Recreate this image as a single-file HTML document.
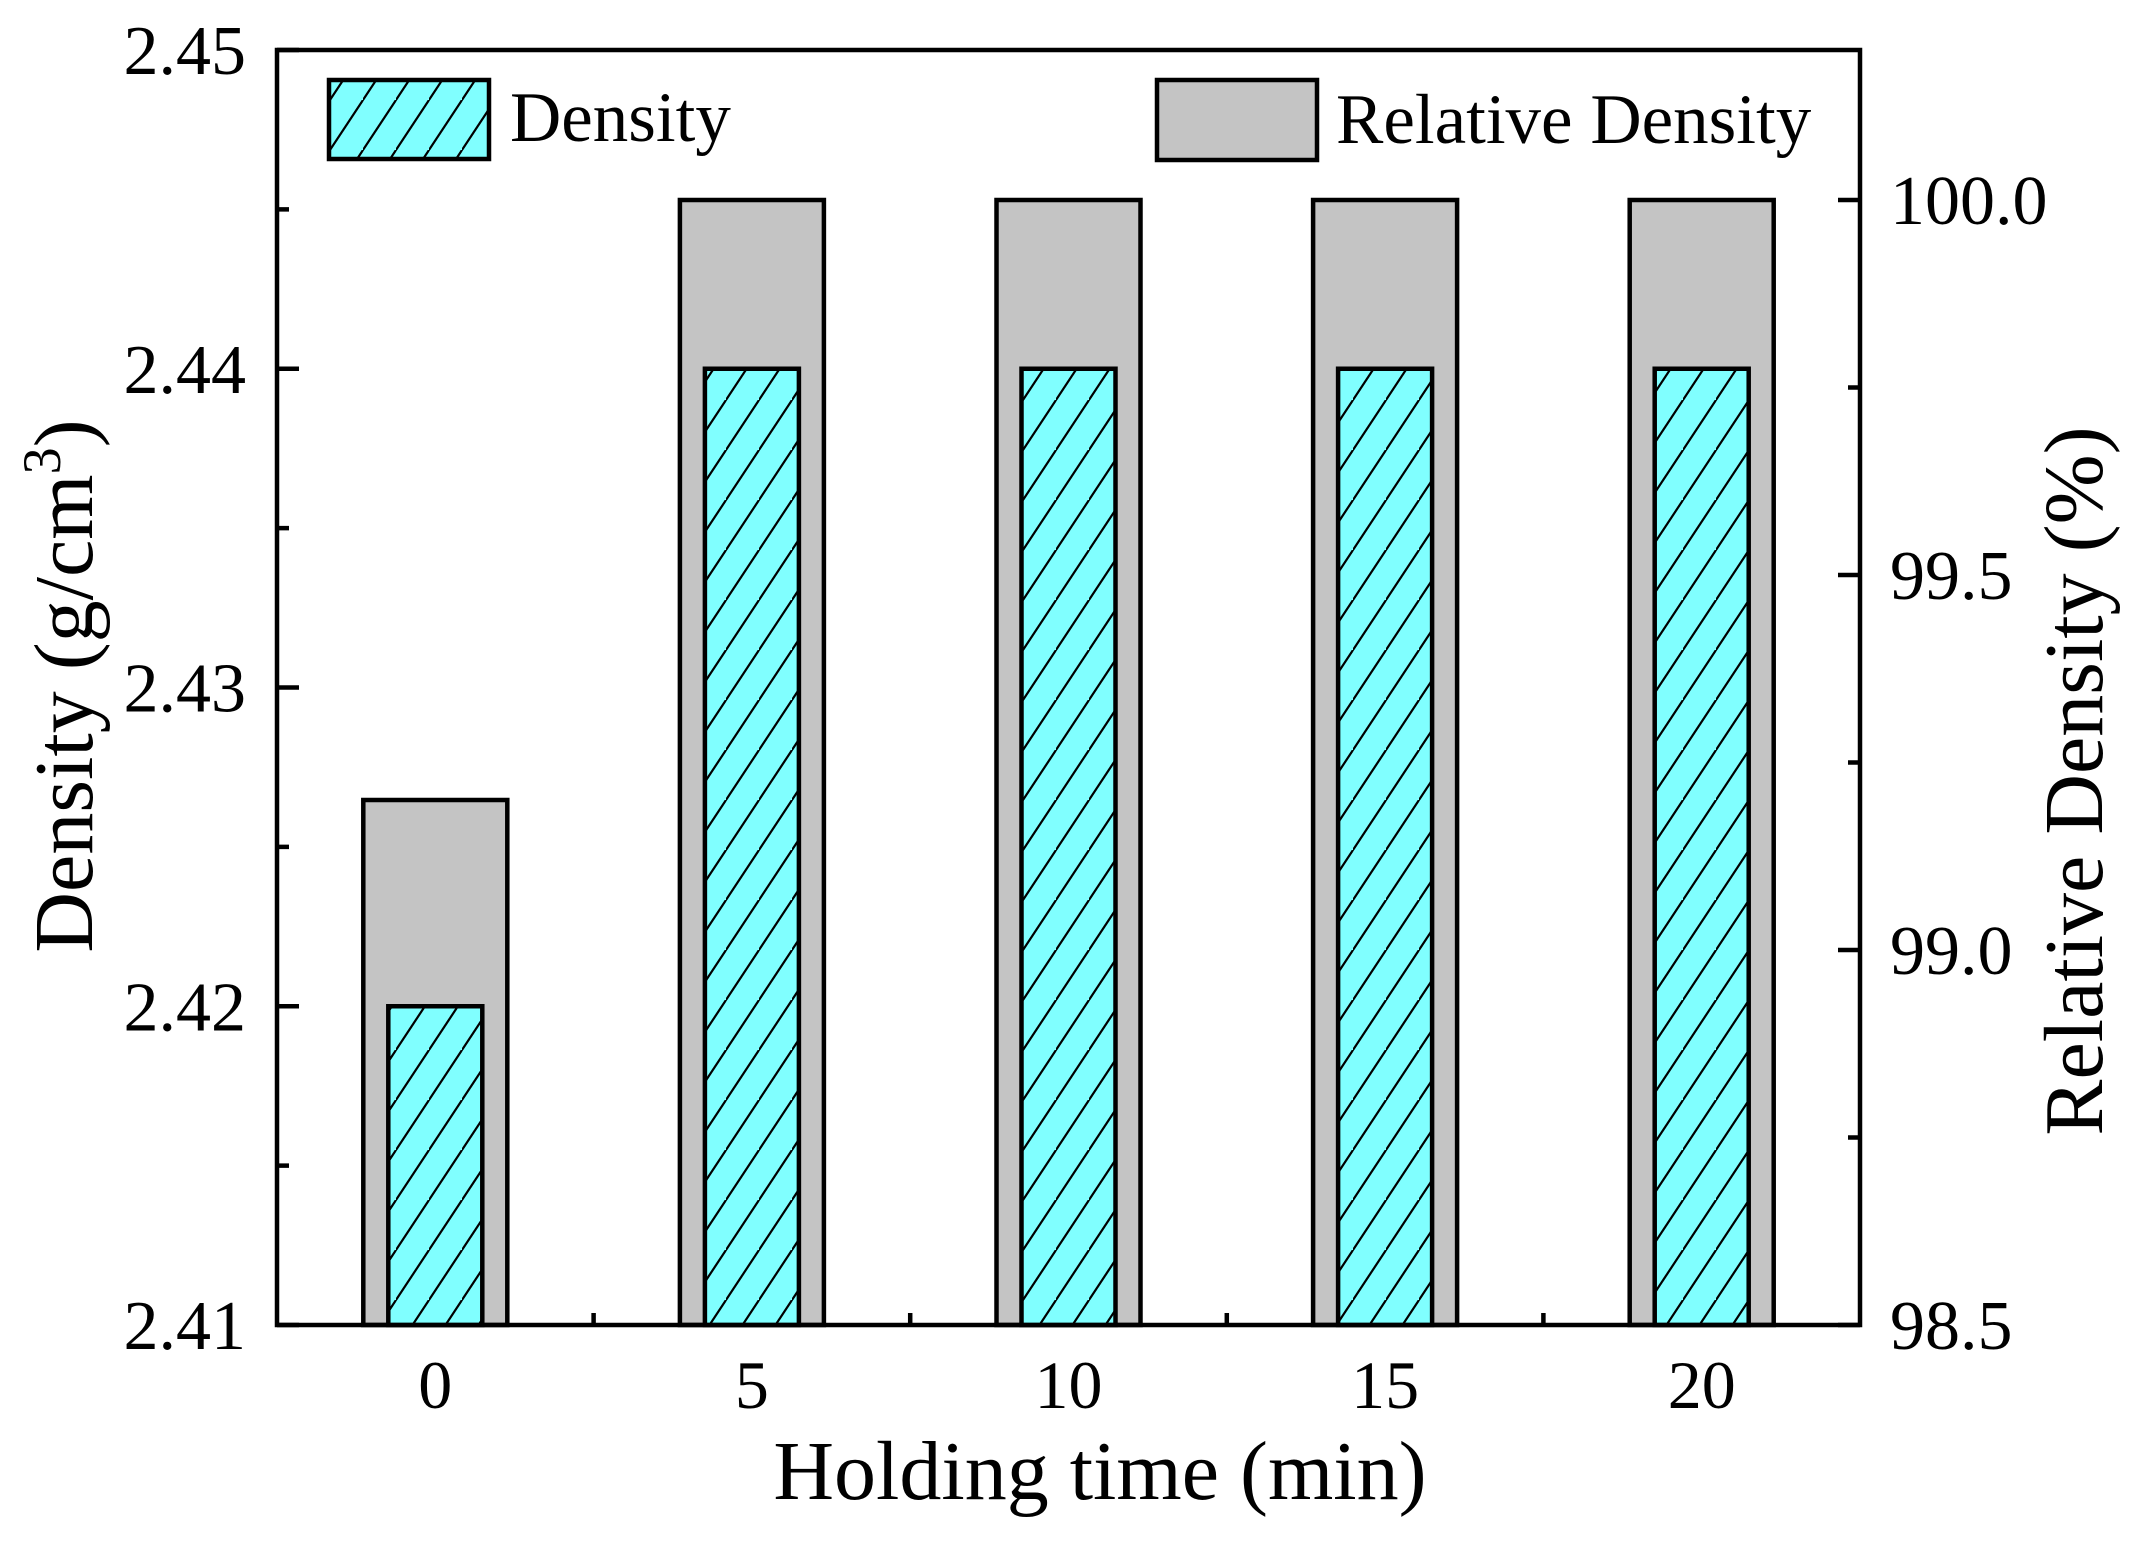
<!DOCTYPE html>
<html><head><meta charset="utf-8"><style>
html,body{margin:0;padding:0;background:#fff;}
svg text{font-family:"Liberation Serif",serif;fill:#000;}
</style></head><body>
<svg id="chart" width="2144" height="1544" viewBox="0 0 2144 1544" xmlns="http://www.w3.org/2000/svg">
<defs>
<pattern id="hatch" patternUnits="userSpaceOnUse" width="33" height="50">
<rect width="33" height="50" fill="#80ffff"/>
<line x1="-33" y1="50" x2="33" y2="-50" stroke="#000" stroke-width="2"/>
<line x1="0" y1="50" x2="66" y2="-50" stroke="#000" stroke-width="2"/>
<line x1="-33" y1="100" x2="33" y2="0" stroke="#000" stroke-width="2"/>
</pattern>
</defs>
<g id="bars"></g>
<g id="axes"></g>
<g id="legend">
<rect x="329" y="80" width="160" height="79" fill="url(#hatch)" stroke="#000" stroke-width="4.5"/>
<text x="510" y="141" font-size="71">Density</text>
<rect x="1157" y="80" width="160" height="80" fill="#c4c4c4" stroke="#000" stroke-width="4.5"/>
<text x="1336" y="143" font-size="71">Relative Density</text>
</g>
<text x="1100" y="1499" font-size="84" text-anchor="middle">Holding time (min)</text>
<text transform="translate(92,686) rotate(-90)" font-size="84" text-anchor="middle">Density (g/cm<tspan font-size="54" dy="-32">3</tspan><tspan dy="32">)</tspan></text>
<text transform="translate(2102,781) rotate(-90)" font-size="84" text-anchor="middle">Relative Density (%)</text>
</svg>
<script>
const categories = ["0","5","10","15","20"];
const densityValues = [2.42, 2.44, 2.44, 2.44, 2.44];
const relativeValues = [99.2, 100.0, 100.0, 100.0, 100.0];
const yTicks = ["2.41","2.42","2.43","2.44","2.45"];
const y2Ticks = ["98.5","99.0","99.5","100.0"];

const NS = "http://www.w3.org/2000/svg";
const L = 277, R = 1860, T = 50, B = 1325;
const yMin = 2.41, yMax = 2.45, y2Min = 98.5, y2Max = 100.2;
const band = (R - L) / categories.length;
const xC = i => L + band * (i + 0.5);
const yS = v => B - (v - yMin) / (yMax - yMin) * (B - T);
const y2S = v => B - (v - y2Min) / (y2Max - y2Min) * (B - T);
function mk(tag, attrs, parent) { const e = document.createElementNS(NS, tag); for (const k in attrs) e.setAttribute(k, attrs[k]); parent.appendChild(e); return e; }
const bars = document.getElementById('bars'), axes = document.getElementById('axes');
const gw = 144, cw = 94;
categories.forEach((c, i) => {
  const g = mk('rect', {x: xC(i) - gw/2, y: y2S(relativeValues[i]), width: gw, height: B - y2S(relativeValues[i]), fill: '#c4c4c4', stroke: '#000', 'stroke-width': 4.5}, bars);
  
  
  const d = mk('rect', {x: xC(i) - cw/2, y: yS(densityValues[i]), width: cw, height: B - yS(densityValues[i]), fill: 'url(#hatch)', stroke: '#000', 'stroke-width': 4.5}, bars);
  
  
  const t = mk('text', {x: xC(i), y: 1408, 'font-size': 68, 'text-anchor': 'middle'}, axes);
  t.textContent = c;
  
  
  if (i > 0) mk('line', {x1: L + band*i, x2: L + band*i, y1: B, y2: B - 12, stroke: '#000', 'stroke-width': 4.5}, axes);
});
const frame = mk('rect', {x: L, y: T, width: R - L, height: B - T, fill: 'none', stroke: '#000', 'stroke-width': 4.5}, axes);


yTicks.forEach((s, i) => {
  const v = parseFloat(s), y = yS(v);
  mk('line', {x1: L, x2: L + 22, y1: y, y2: y, stroke: '#000', 'stroke-width': 4.5}, axes);
  if (i < yTicks.length - 1) { const ym = yS(v + 0.005); mk('line', {x1: L, x2: L + 12, y1: ym, y2: ym, stroke: '#000', 'stroke-width': 4.5}, axes); }
  const t = mk('text', {x: 246, y: y + 24, 'font-size': 70, 'text-anchor': 'end'}, axes);
  t.textContent = s;
  
  
});
y2Ticks.forEach((s, i) => {
  const v = parseFloat(s), y = y2S(v);
  mk('line', {x1: R, x2: R - 22, y1: y, y2: y, stroke: '#000', 'stroke-width': 4.5}, axes);
  const ym = y2S(v + 0.25);
  if (ym > T) mk('line', {x1: R, x2: R - 12, y1: ym, y2: ym, stroke: '#000', 'stroke-width': 4.5}, axes);
  const t = mk('text', {x: 1890, y: y + 24, 'font-size': 70}, axes);
  t.textContent = s;
  
  
});
</script>
</body></html>
